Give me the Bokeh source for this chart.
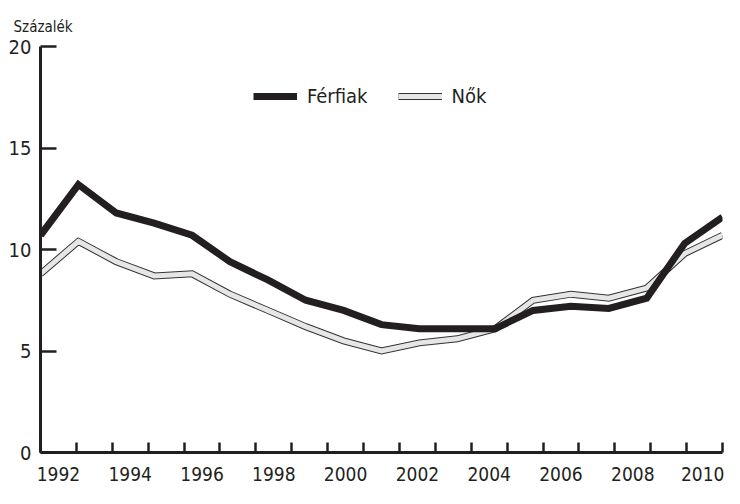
from bokeh.plotting import figure
from bokeh.models import (Range1d, FixedTicker, CustomJSTickFormatter,
                          Legend, LegendItem, ColumnDataSource)
from bokeh.embed import file_html
from bokeh.resources import INLINE

years = list(range(1992, 2011))
ferfiak = [10.7, 13.2, 11.8, 11.3, 10.7, 9.4, 8.5, 7.5, 7.0, 6.3, 6.1, 6.1, 6.1,
           7.0, 7.2, 7.1, 7.6, 10.3, 11.6]
nok = [8.8, 10.4, 9.4, 8.7, 8.8, 7.8, 7.0, 6.2, 5.5, 5.0, 5.4, 5.6, 6.1,
       7.5, 7.8, 7.6, 8.1, 9.8, 10.7]
tick_labels = [str(y) for y in range(1992, 2011, 2)]
y_ticks = [0, 5, 10, 15, 20]

FONT = "DejaVu Sans Condensed, Liberation Sans Narrow, Roboto Condensed, Roboto"
TXT = "#231f20"

src = ColumnDataSource(dict(x=years, f=ferfiak, n=nok))

p = figure(width=724, height=488, output_backend="svg", toolbar_location=None,
           x_range=Range1d(years[0], years[-1]), y_range=Range1d(0, 20),
           min_border_left=40, min_border_right=2, min_border_top=46,
           min_border_bottom=36)
p.frame_width = 682
p.frame_height = 406
p.outline_line_color = None
p.grid.visible = False
p.background_fill_color = "white"

p.title.text = "Százalék"
p.title.align = "left"
p.title.offset = -27
p.title.text_font = FONT
p.title.text_font_size = "15px"
p.title.text_font_style = "normal"
p.title.text_color = TXT
p.title.standoff = 22

# x ticks: boundaries between year intervals (minor) and labels at interval centers (major)
n = len(years)
span = years[-1] - years[0]
bounds = [years[0] + k * span / n for k in range(n + 1)]
centers = [years[0] + (k + 0.5) * span / n for k in range(0, n, 2)]
xa = p.xaxis[0]
xa.ticker = FixedTicker(ticks=centers, minor_ticks=bounds)
xa.formatter = CustomJSTickFormatter(args=dict(labels=tick_labels),
                                     code="return labels[index]")
xa.major_tick_line_color = None
xa.minor_tick_in = 10
xa.minor_tick_out = 0
xa.minor_tick_line_width = 2.5
xa.minor_tick_line_color = TXT
xa.axis_line_width = 3
xa.axis_line_color = TXT
xa.major_label_text_font = FONT
xa.major_label_text_font_size = "19px"
xa.major_label_text_color = TXT
xa.major_label_standoff = 8

ya = p.yaxis[0]
ya.ticker = FixedTicker(ticks=y_ticks)
ya.major_tick_in = 16
ya.major_tick_out = 0
ya.major_tick_line_width = 2.5
ya.major_tick_line_color = TXT
ya.minor_tick_line_color = None
ya.axis_line_width = 3
ya.axis_line_color = TXT
ya.major_label_text_font = FONT
ya.major_label_text_font_size = "20px"
ya.major_label_text_color = TXT
ya.major_label_standoff = 9

r_nok_outer = p.line("x", "n", source=src, line_width=7, line_color="#333333",
                     line_join="miter")
r_nok_inner = p.line("x", "n", source=src, line_width=5, line_color="#e6e6e6",
                     line_join="miter")
r_f = p.line("x", "f", source=src, line_width=7, line_color=TXT, line_join="miter")

legend = Legend(items=[LegendItem(label="Férfiak", renderers=[r_f]),
                       LegendItem(label="Nők", renderers=[r_nok_outer, r_nok_inner])],
                location=(213, 344), orientation="horizontal",
                border_line_color=None, background_fill_alpha=0,
                padding=0, margin=0, spacing=30, glyph_width=44, glyph_height=20,
                label_height=20, label_standoff=10,
                label_text_font=FONT, label_text_font_size="20px",
                label_text_color=TXT)
p.add_layout(legend, "center")

open("out.html", "w").write(file_html(p, INLINE))
